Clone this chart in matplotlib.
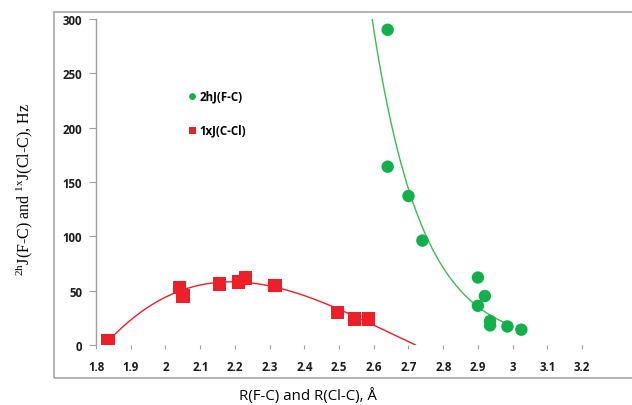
import matplotlib
matplotlib.use('Agg')
import matplotlib.pyplot as plt
from matplotlib.patches import Rectangle
import numpy as np

plt.rcParams['mathtext.fontset'] = 'custom'
plt.rcParams['mathtext.rm'] = 'Liberation Serif'

# 2hJ(F-C) points
r_fc = [2.64, 2.64, 2.70, 2.74, 2.90, 2.92, 2.90, 2.935, 2.935, 2.985, 3.025]
j_fc = [290, 164, 137, 96, 62, 45, 36, 22, 18, 17, 14]

# 1xJ(C-Cl) points
r_ccl = [1.835, 2.04, 2.05, 2.155, 2.21, 2.23, 2.315, 2.495, 2.545, 2.585]
j_ccl = [4, 53, 45, 56, 58, 61.5, 54.7, 30, 24, 24]

x_ticks = [1.8, 1.9, 2.0, 2.1, 2.2, 2.3, 2.4, 2.5, 2.6, 2.7, 2.8, 2.9, 3.0, 3.1, 3.2]
x_ticklabels = ['1.8', '1.9', '2', '2.1', '2.2', '2.3', '2.4', '2.5', '2.6',
                '2.7', '2.8', '2.9', '3', '3.1', '3.2']
y_ticks = [0, 50, 100, 150, 200, 250, 300]

green = '#12b04b'
red = '#ee1f26'

fig = plt.figure(figsize=(6.32, 4.06), dpi=100)
ax = fig.add_axes([0.152, 0.148, 0.769, 0.803])

# trend lines (least squares, like the spreadsheet trendlines)
b, a = np.polyfit(r_fc, np.log(j_fc), 1)
xg = np.linspace(2.55, 3.0, 200)
ax.plot(xg, np.exp(a) * np.exp(b * xg), color='#3dbb50', lw=1.0, zorder=2)

pc = np.polyfit(r_ccl, j_ccl, 3)
xr = np.linspace(1.84, 2.72, 200)
ax.plot(xr, np.polyval(pc, xr), color=red, lw=1.0, zorder=2)

ax.scatter(r_fc, j_fc, s=80, marker='o', color=green, edgecolors='none',
           zorder=3, label='2hJ(F-C)')
ax.scatter(r_ccl, j_ccl, s=95, marker='s', color=red, edgecolors='none',
           zorder=3, label='1xJ(C-Cl)')

ax.set_xlim(1.8, 3.2)
ax.set_ylim(0, 300)
ax.set_xticks(x_ticks)
ax.set_xticklabels(x_ticklabels)
ax.set_yticks(y_ticks)

for s in ['top', 'right', 'bottom']:
    ax.spines[s].set_visible(False)
ax.spines['left'].set_color('#a0a0a0')
ax.spines['left'].set_linewidth(1.0)
ax.tick_params(axis='y', length=5, width=0.8, color='#a0a0a0', pad=5)
ax.tick_params(axis='x', length=3, width=0.8, color='#a0a0a0', pad=8)
for lab in ax.get_xticklabels() + ax.get_yticklabels():
    lab.set_fontfamily('Open Sans')
    lab.set_fontweight('bold')
    lab.set_fontsize(8.3)
    lab.set_color('#1a1a1a')

leg = ax.legend(loc='upper left', bbox_to_anchor=(0.17, 0.815), frameon=False,
                markerscale=0.55, handlelength=0.6, handletextpad=0.3,
                labelspacing=1.8, prop={'family': 'Open Sans', 'weight': 'bold', 'size': 8.3})

# chart border
fig.patches.append(Rectangle((0.0854, 0.0665), 1.0, 0.9015, transform=fig.transFigure,
                             fill=False, edgecolor='#a8a8a8', lw=1.2))

fig.text(0.038, 0.532, r'$^{\mathrm{2h}}$J(F-C) and $^{\mathrm{1x}}$J(Cl-C), Hz', rotation=90,
         ha='center', va='center', fontsize=11.5, family='Liberation Serif')
fig.text(0.487, 0.024, 'R(F-C) and R(Cl-C), Å', ha='center', va='center',
         fontsize=10.8, family='Open Sans')

fig.savefig('out.png', dpi=100)
